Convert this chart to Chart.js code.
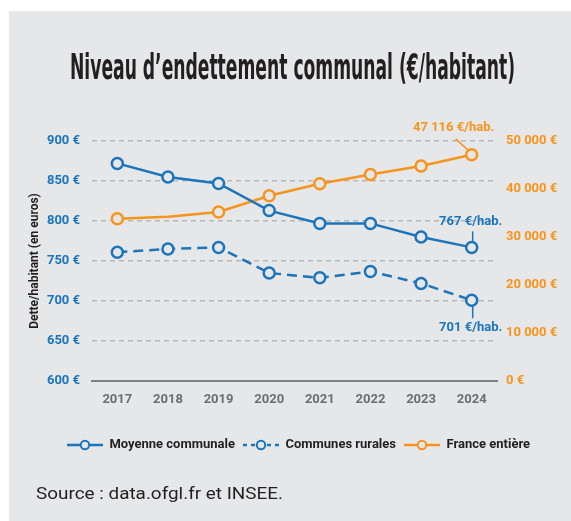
<!DOCTYPE html>
<html>
<head>
<meta charset="utf-8">
<script src="https://cdn.jsdelivr.net/npm/chart.js@4.4.1/dist/chart.umd.min.js"></script>
<style>
  html, body { margin: 0; padding: 0; background: #fff; }
  #panel { position: absolute; left: 9px; top: 11px; width: 562px; height: 510px; background: #e6e7e8; }
  #mainChart { position: absolute; left: 0; top: 0; }
</style>
</head>
<body>
<div id="panel"></div>
<canvas id="mainChart" width="571" height="521"></canvas>
<script>
// data
var years = ["2017", "2018", "2019", "2020", "2021", "2022", "2023", "2024"];
var moyenneCommunale = [872, 855, 847, 813, 797, 797, 780, 767];
var communesRurales = [761, 765, 767, 735, 729, 737, 722, 701];
var franceEntiere = [33800, 34200, 35200, 38600, 41100, 43000, 44800, 47116];
var seriesNames = ["Moyenne communale", "Communes rurales", "France entière"];

var BLUE = "#1b75bc";
var ORANGE = "#f7941d";
var PANEL = "#e6e7e8";
var DARK = "#231f20";

function euros(v) {
  return String(v).replace(/\B(?=(\d{3})+(?!\d))/g, " ") + " €";
}

// small line + circle picture for the legend
function legendSample(color, dash) {
  var c = document.createElement("canvas");
  c.width = 36;
  c.height = 14;
  var g = c.getContext("2d");
  g.strokeStyle = color;
  g.lineWidth = 2.5;
  g.setLineDash(dash);
  g.beginPath();
  g.moveTo(0, 7);
  g.lineTo(36, 7);
  g.stroke();
  g.setLineDash([]);
  g.fillStyle = PANEL;
  g.lineWidth = 2;
  g.beginPath();
  g.arc(18, 7, 4.2, 0, 2 * Math.PI);
  g.fill();
  g.stroke();
  return c;
}

// text drawn squeezed/stretched to a given width
function fitText(ctx, text, x, y, width) {
  var w = ctx.measureText(text).width;
  ctx.save();
  ctx.translate(x, y);
  ctx.scale(width / w, 1);
  ctx.fillText(text, 0, 0);
  ctx.restore();
}

// title, source and the value call-outs
var decorPlugin = {
  id: "decor",
  afterLayout: function (chart) {
    // nudge the legend a little to the right, as in the original
    chart.legend.left += 6;
    chart.legend.right += 6;
  },
  afterDraw: function (chart) {
    var ctx = chart.ctx;
    ctx.save();
    ctx.fillStyle = DARK;
    ctx.textBaseline = "alphabetic";
    ctx.font = 'bold 36px "Liberation Sans Narrow", "DejaVu Sans Condensed", Roboto, sans-serif';
    fitText(ctx, "Niveau d\u2019endettement communal (€/habitant)", 70, 79, 445);
    ctx.font = "17px Roboto, sans-serif";
    fitText(ctx, "Source : data.ofgl.fr et INSEE.", 36, 499, 247);
    ctx.restore();
  },
  afterDatasetsDraw: function (chart) {
    var ctx = chart.ctx;
    var last = years.length - 1;
    var px = chart.scales.x.getPixelForValue(last);
    var pf = chart.scales.y2.getPixelForValue(franceEntiere[last]);
    var pm = chart.scales.y.getPixelForValue(moyenneCommunale[last]);
    var pr = chart.scales.y.getPixelForValue(communesRurales[last]);
    ctx.save();
    ctx.font = "bold 13px Roboto, sans-serif";
    ctx.textAlign = "center";
    ctx.textBaseline = "middle";
    ctx.lineWidth = 1.5;

    ctx.strokeStyle = ORANGE;
    ctx.fillStyle = ORANGE;
    ctx.beginPath();
    ctx.moveTo(px - 16, pf - 16);
    ctx.lineTo(px - 4, pf - 5);
    ctx.stroke();
    ctx.fillText(euros(franceEntiere[last]) + "/hab.", px - 18, pf - 27);

    ctx.strokeStyle = BLUE;
    ctx.fillStyle = BLUE;
    ctx.beginPath();
    ctx.moveTo(px + 1, pm - 16);
    ctx.lineTo(px + 1, pm - 6);
    ctx.stroke();
    ctx.fillText(euros(moyenneCommunale[last]) + "/hab.", px - 1, pm - 26);

    ctx.beginPath();
    ctx.moveTo(px + 1, pr + 6);
    ctx.lineTo(px + 1, pr + 18);
    ctx.stroke();
    ctx.fillText(euros(communesRurales[last]) + "/hab.", px - 1, pr + 28);
    ctx.restore();
  }
};

var samples = [legendSample(BLUE, []), legendSample(BLUE, [4, 4]), legendSample(ORANGE, [])];

var data = {
  labels: years,
  datasets: [{
    label: seriesNames[0],
    data: moyenneCommunale,
    yAxisID: "y",
    borderColor: BLUE,
    borderWidth: 2.5,
    pointRadius: 5.5,
    pointBorderWidth: 2.5,
    pointBackgroundColor: PANEL,
    pointBorderColor: BLUE
  }, {
    label: seriesNames[1],
    data: communesRurales,
    yAxisID: "y",
    borderColor: BLUE,
    borderWidth: 2.5,
    borderDash: [10, 6],
    pointRadius: 5.5,
    pointBorderWidth: 2.5,
    pointBackgroundColor: PANEL,
    pointBorderColor: BLUE
  }, {
    label: seriesNames[2],
    data: franceEntiere,
    yAxisID: "y2",
    borderColor: ORANGE,
    borderWidth: 2.5,
    pointRadius: [5.5, 0, 5.5, 5.5, 5.5, 5.5, 5.5, 5.5],
    pointBorderWidth: 2.5,
    pointBackgroundColor: PANEL,
    pointBorderColor: ORANGE
  }]
};

var options = {
  responsive: false,
  animation: false,
  layout: { padding: { top: 141, left: 24, right: 10, bottom: 59.5 } },
  plugins: {
    tooltip: { enabled: false },
    legend: {
      position: "bottom",
      labels: {
        usePointStyle: true,
        pointStyleWidth: 36,
        padding: 8,
        color: DARK,
        font: { family: "Roboto", size: 13, weight: "bold" },
        generateLabels: function (chart) {
          return seriesNames.map(function (name, i) {
            return { text: name, pointStyle: samples[i], datasetIndex: i, fontColor: DARK, lineWidth: 0 };
          });
        }
      }
    }
  },
  scales: {
    x: {
      offset: true,
      grid: { display: false, drawTicks: false },
      border: { display: true, color: "#808080", width: 2 },
      ticks: { color: "#6d6e71", padding: 11, font: { family: "Roboto", size: 13, weight: "bold" } },
      afterFit: function (s) { s.height = 49.5; }
    },
    y: {
      position: "left",
      min: 600,
      max: 900,
      grid: {
        drawTicks: false,
        lineWidth: 1.5,
        color: function (c) { return c.tick && c.tick.value === 600 ? "rgba(0,0,0,0)" : "#b8b8b8"; }
      },
      border: { display: false, dash: [5, 4] },
      ticks: {
        stepSize: 50,
        padding: 12,
        color: BLUE,
        font: { family: "Roboto", size: 13, weight: "bold" },
        callback: function (v) { return euros(v); }
      },
      title: {
        display: true,
        text: "Dette/habitant (en euros)",
        color: DARK,
        font: { family: "Roboto", size: 12, weight: "bold" }
      },
      afterFit: function (s) { s.width = 68; }
    },
    y2: {
      position: "right",
      min: 0,
      max: 50000,
      grid: { display: false, drawTicks: false },
      border: { display: false },
      ticks: {
        stepSize: 10000,
        padding: 9,
        color: ORANGE,
        font: { family: "Roboto", size: 13, weight: "bold" },
        callback: function (v) { return euros(v); }
      },
      afterFit: function (s) { s.width = 64; }
    }
  }
};

var config = {
  type: "line",
  data: data,
  options: options,
  plugins: [decorPlugin]
};

var ctx = document.getElementById("mainChart");
new Chart(ctx, config);
</script>
</body>
</html>
